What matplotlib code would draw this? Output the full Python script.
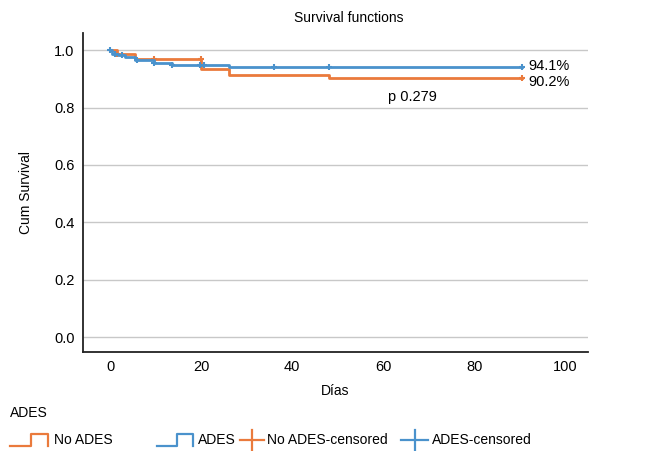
import matplotlib.pyplot as plt
from matplotlib.lines import Line2D

plt.rcParams['font.family'] = ['Liberation Sans', 'DejaVu Sans']
FS = 10

ORANGE = '#ea7a3c'
BLUE = '#4a92cc'

# Kaplan-Meier step curves (day, cumulative survival)
no_ades_t = [0, 1.5, 5.5, 20, 26, 48, 90.5]
no_ades_s = [1.0, 0.986, 0.969, 0.934, 0.915, 0.902, 0.902]
ades_t = [0, 0.4, 1.7, 3.3, 5.5, 9.5, 13.5, 26, 90.5]
ades_s = [1.0, 0.986, 0.982, 0.978, 0.965, 0.957, 0.950, 0.941, 0.941]

# censored observations
no_ades_cens_t = [1.5, 9.5, 20, 90.5]
no_ades_cens_s = [0.986, 0.969, 0.969, 0.902]
ades_cens_t = [0, 1, 2.5, 5.9, 9.5, 13.5, 19.8, 20.7, 36, 48, 90.5]
ades_cens_s = [1.0, 0.986, 0.982, 0.965, 0.957, 0.950, 0.950, 0.950, 0.941, 0.941, 0.941]

final_labels = ['94.1%', '90.2%']
p_value = 'p 0.279'

fig = plt.figure(figsize=(6.46, 4.51), dpi=100)
ax = fig.add_axes([83 / 646, 1 - 352 / 451, (588 - 83) / 646, (352 - 33) / 451])

ax.plot(no_ades_t, no_ades_s, drawstyle='steps-post', color=ORANGE, lw=2.0, zorder=3)
ax.plot(ades_t, ades_s, drawstyle='steps-post', color=BLUE, lw=2.0, zorder=4)
ax.plot(no_ades_cens_t, no_ades_cens_s, ls='none', marker='+', ms=5, mew=1.5, color=ORANGE, zorder=3)
ax.plot(ades_cens_t, ades_cens_s, ls='none', marker='+', ms=5, mew=1.5, color=BLUE, zorder=4)

ax.text(92, ades_s[-1] + 0.003, final_labels[0], fontsize=FS + 0.5, va='center', ha='left')
ax.text(92, no_ades_s[-1] - 0.012, final_labels[1], fontsize=FS + 0.5, va='center', ha='left')
ax.text(66.5, 0.836, p_value, fontsize=FS + 0.5, ha='center', va='center')

ax.set_xlim(-6, 105)
ax.set_ylim(-0.052, 1.06)
ax.set_xticks([0, 20, 40, 60, 80, 100])
ax.set_yticks([0.0, 0.2, 0.4, 0.6, 0.8, 1.0])
ax.set_yticklabels(['0.0', '0.2', '0.4', '0.6', '0.8', '1.0'])
ax.tick_params(length=0, labelsize=FS + 0.5, pad=6)
ax.yaxis.grid(True, color='#c8c8c8', lw=1.0)
ax.set_axisbelow(True)
for side in ['top', 'right']:
    ax.spines[side].set_visible(False)
for side in ['left', 'bottom']:
    ax.spines[side].set_linewidth(1.3)
    ax.spines[side].set_color('#222222')

ax.set_xlabel('Días', fontsize=FS, labelpad=7)
ax.set_ylabel('Cum Survival', fontsize=FS, labelpad=15)
fig.text(349 / 646, 1 - 18 / 451, 'Survival functions', ha='center', va='center', fontsize=FS)

# legend drawn below the axes
fig.text(10 / 646, 1 - 413 / 451, 'ADES', fontsize=FS, va='center', ha='left')
ly = 1 - 440 / 451
dy = 6 / 451


def step_icon(x0, x1, color):
    xm = (x0 + x1) / 2 + 2
    xs = [x0, xm, xm, x1, x1]
    ys = [ly - dy, ly - dy, ly + dy, ly + dy, ly - dy]
    xs = [v / 646 for v in xs]
    fig.lines.append(Line2D(xs, ys, color=color, lw=1.6, transform=fig.transFigure))


def cross_icon(x0, x1, color):
    xm = (x0 + x1) / 2
    fig.lines.append(Line2D([x0 / 646, x1 / 646], [ly, ly], color=color, lw=1.6,
                            transform=fig.transFigure))
    fig.lines.append(Line2D([xm / 646, xm / 646], [ly - 1.6 * dy, ly + 1.6 * dy], color=color,
                            lw=1.6, transform=fig.transFigure))


step_icon(10, 48, ORANGE)
fig.text(54 / 646, ly, 'No ADES', fontsize=FS, va='center')
step_icon(157, 193, BLUE)
fig.text(198 / 646, ly, 'ADES', fontsize=FS, va='center')
cross_icon(240, 264, ORANGE)
fig.text(267 / 646, ly, 'No ADES-censored', fontsize=FS, va='center')
cross_icon(401, 428, BLUE)
fig.text(432 / 646, ly, 'ADES-censored', fontsize=FS, va='center')

fig.savefig('out.png', dpi=100)
